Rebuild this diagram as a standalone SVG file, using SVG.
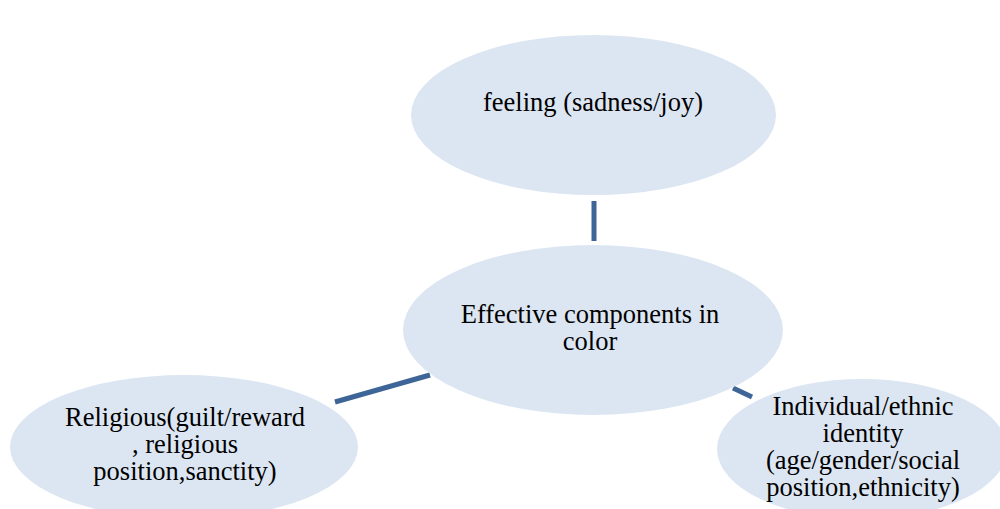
<svg xmlns="http://www.w3.org/2000/svg" width="1000" height="509" viewBox="0 0 1000 509">
<style>
.n{fill:#dce6f2;stroke:none}
.t{font-family:"Liberation Serif","Times New Roman",serif;font-size:26.5px;fill:#000;text-anchor:middle}
.c{stroke:#3d6597;stroke-width:5;fill:none}
</style>
<rect width="1000" height="509" fill="#fff"/>
<g id="connectors">
<line class="c" x1="594" y1="201" x2="594" y2="241"/>
<line class="c" x1="335" y1="402" x2="430" y2="375"/>
<line class="c" x1="733" y1="388" x2="752" y2="397"/>
</g>
<g id="node-feeling">
<ellipse class="n" cx="593.5" cy="115" rx="182.5" ry="80"/>
<text class="t" x="593" y="111">feeling (sadness/joy)</text>
</g>
<g id="node-center">
<ellipse class="n" cx="593" cy="330" rx="190" ry="85"/>
<text class="t" x="590" y="323">Effective components in</text>
<text class="t" x="590" y="350">color</text>
</g>
<g id="node-religious">
<ellipse class="n" cx="184" cy="447" rx="174" ry="72"/>
<text class="t" x="185" y="426">Religious(guilt/reward</text>
<text class="t" x="185" y="453">, religious</text>
<text class="t" x="185" y="480">position,sanctity)</text>
</g>
<g id="node-identity">
<ellipse class="n" cx="862" cy="449" rx="145" ry="70"/>
<text class="t" x="863" y="415">Individual/ethnic</text>
<text class="t" x="863" y="442">identity</text>
<text class="t" x="863" y="469">(age/gender/social</text>
<text class="t" x="863" y="496">position,ethnicity)</text>
</g>
</svg>
